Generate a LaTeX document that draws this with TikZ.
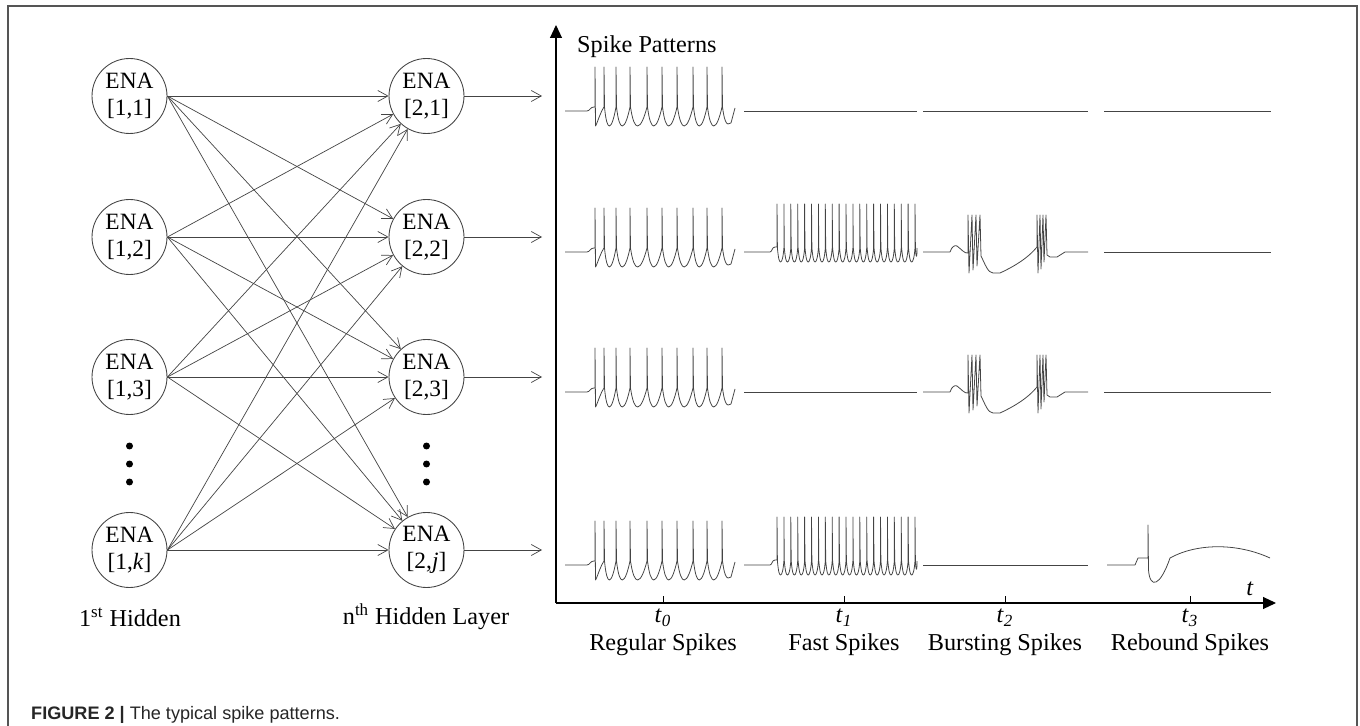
\documentclass[tikz,border=0pt]{standalone}
\usepackage{fontspec}
\setmainfont{Liberation Serif}
\newfontfamily\capfont{Liberation Sans}
\usetikzlibrary{arrows.meta,positioning}

\definecolor{linegray}{HTML}{444444}
\definecolor{framegray}{HTML}{555555}

\tikzset{
  ena/.style={circle, draw=linegray, line width=0.5pt, minimum size=1.5cm, inner sep=0pt,
    align=center, font=\fontsize{13.3}{15.6}\selectfont},
  conn/.style={draw=linegray, line width=0.4pt, -{Straight Barb[length=2mm,width=2.2mm]}},
  axis/.style={draw=black, line width=0.6pt, -{Triangle[length=2.6mm,width=2.4mm]}},
  trace/.style={draw=linegray, line width=0.45pt, line join=round},
  lbl/.style={font=\fontsize{13.8}{16.5}\selectfont},
  dotmark/.style={circle, fill=black, inner sep=0pt, minimum size=0.14cm}
}

% spike traces, #1 = baseline
\newcommand{\regulartrace}[1]{%
  \draw[trace] (565,#1) -- (587,#1) .. controls (590,#1) and (590,{#1-4}) .. (594,{#1-4}) -- (595,{#1-4})
    -- (595,{#1-44}) -- (595.5,{#1+15})
    .. controls (597,{#1+13}) and (600,{#1+2}) .. (604,{#1-4})
    \foreach \xa/\xb in {604/616,616/630,630/647,647/662,662/677,677/693,693/707,707/722}{
      -- (\xa,{#1-44}) -- ({\xa+0.5},{#1-4})
      .. controls ({\xa+0.15*(\xb-\xa)},{#1+10}) and ({\xa+0.3*(\xb-\xa)},{#1+15}) .. ({\xa+0.45*(\xb-\xa)},{#1+15})
      .. controls ({\xa+0.65*(\xb-\xa)},{#1+15}) and ({\xa+0.85*(\xb-\xa)},{#1+6}) .. (\xb,{#1-4})
    }
    -- (722,{#1-44}) -- (722.5,{#1-4}) .. controls (724,{#1+8}) and (726,{#1+13}) .. (728,{#1+13})
    -- (731,{#1+12}) -- (735,{#1-3});
}
\newcommand{\fasttrace}[1]{%
  \draw[trace] (744,#1) -- (770,#1) .. controls (772,#1) and (772,{#1-5}) .. (775,{#1-5}) -- (777,{#1-5})
    \foreach \i in {0,...,19}{
      -- ({777+6.9*\i},{#1-48}) -- ({777.4+6.9*\i},{#1-4})
      .. controls ({778.5+6.9*\i},{#1+8}) and ({779.5+6.9*\i},{#1+10}) .. ({780.6+6.9*\i},{#1+10})
      .. controls ({782+6.9*\i},{#1+10}) and ({783.2+6.9*\i},{#1+5}) .. ({783.9+6.9*\i},{#1-4})
    }
    -- (915,{#1-48}) -- (915.4,{#1-4}) .. controls (916,{#1+6}) and (917,{#1+8}) .. (917,{#1-4});
}
\newcommand{\bursttrace}[1]{%
  \draw[trace] (923,#1) -- (950,#1) .. controls (952,{#1-6}) and (955,{#1-7}) .. (957,{#1-6})
    .. controls (961,{#1-3}) and (965,{#1+2}) .. (968,{#1+1})
    -- (968,{#1-37}) -- (969,{#1+21}) -- (972,{#1-37}) -- (973,{#1+18}) -- (976,{#1-37})
    -- (977,{#1+14}) -- (980,{#1-37}) -- (981,{#1+4})
    .. controls (985,{#1+12}) and (988,{#1+21}) .. (993,{#1+21}) -- (1000,{#1+21})
    .. controls (1015,{#1+14}) and (1028,{#1+6}) .. (1037,{#1-5})
    -- (1037,{#1-37}) -- (1038,{#1+21}) -- (1040,{#1-37}) -- (1041,{#1+17}) -- (1043,{#1-37})
    -- (1044,{#1+10}) -- (1046,{#1-37}) -- (1047,{#1+3})
    -- (1050,{#1+5}) -- (1057,{#1+5}) -- (1065,#1) -- (1088,#1);
}
\newcommand{\reboundtrace}[1]{%
  \draw[trace] (1107,#1) -- (1135,#1) -- (1138,{#1-7}) -- (1148,{#1-7}) -- (1148,{#1-40})
    -- (1148.5,{#1+5}) .. controls (1150,{#1+24}) and (1160,{#1+22}) .. (1170,{#1-7})
    .. controls (1195,{#1-21}) and (1235,{#1-23}) .. (1270,{#1-7});
}

\begin{document}
\begin{tikzpicture}[x=0.02cm, y=-0.02cm]
\useasboundingbox (0,0) rectangle (1360,726);
\draw[framegray, line width=0.6pt] (8,726) -- (8,6) -- (1357,6) -- (1357,726);

% first hidden layer
\node[ena] (l1) at (129.5,96)  {ENA\\{}[1,1]};
\node[ena] (l2) at (129.5,237) {ENA\\{}[1,2]};
\node[ena] (l3) at (129.5,377) {ENA\\{}[1,3]};
\node[ena] (lk) at (129.5,550) {ENA\\{}[1,\textit{k}]};
% nth hidden layer
\node[ena] (r1) at (426.5,96)  {ENA\\{}[2,1]};
\node[ena] (r2) at (426.5,237) {ENA\\{}[2,2]};
\node[ena] (r3) at (426.5,377) {ENA\\{}[2,3]};
\node[ena] (rj) at (426.5,550) {ENA\\{}[2,\textit{j}]};

\foreach \n in {446,464,482}{
  \node[dotmark] at (129.5,\n) {};
  \node[dotmark] at (426.5,\n) {};
}

\foreach \a in {l1,l2,l3,lk}
  \foreach \b in {r1,r2,r3,rj}
    \draw[conn] (\a.east) -- (\b);

% outputs
\foreach \b/\y in {r1/96,r2/237,r3/377,rj/550}{
  \coordinate (o\b) at (542,\y);
  \draw[conn] (\b) -- (o\b);
}

\node[lbl] (hid1) at (130,617) {1\textsuperscript{st} Hidden};
\node[lbl] (hidn) at (426,617) {n\textsuperscript{th} Hidden Layer};

% axes
\coordinate (orig) at (556,603);
\coordinate (ytop) at (556,25);
\coordinate (xend) at (1276,603);
\draw[axis] (orig) -- (ytop);
\draw[axis] (orig) -- (xend);
\node[lbl, anchor=base west] (sp) at (571,53) {Spike Patterns};
\node[lbl] (tlab) at (1250,589) {\textit{t}};

\foreach \x/\k/\name in {663/0/Regular Spikes,844/1/Fast Spikes,1005/2/Bursting Spikes,1190/3/Rebound Spikes}{
  \draw[black, line width=0.5pt] (\x,603) -- (\x,596);
  \node[lbl] (tk\k) at (\x,618) {\textit{t}\textsubscript{\textit{\k}}};
  \node[lbl] (nm\k) at (\x,645) {\name};
}

% row 1
\regulartrace{111}
\draw[trace] (744,111) -- (917,111);
\draw[trace] (923,111) -- (1088,111);
\draw[trace] (1104,111) -- (1271,111);
% row 2
\regulartrace{252}
\fasttrace{252}
\bursttrace{252}
\draw[trace] (1104,252) -- (1271,252);
% row 3
\regulartrace{392}
\draw[trace] (744,392) -- (917,392);
\bursttrace{392}
\draw[trace] (1104,392) -- (1271,392);
% row 4
\regulartrace{565}
\fasttrace{565}
\draw[trace] (923,565) -- (1088,565);
\reboundtrace{565}

\node[anchor=base west, text=black!85] (cap) at (25,719)
  {\capfont\fontsize{10.3}{12}\selectfont\textbf{FIGURE 2 |} The typical spike patterns.};
\end{tikzpicture}
\end{document}
